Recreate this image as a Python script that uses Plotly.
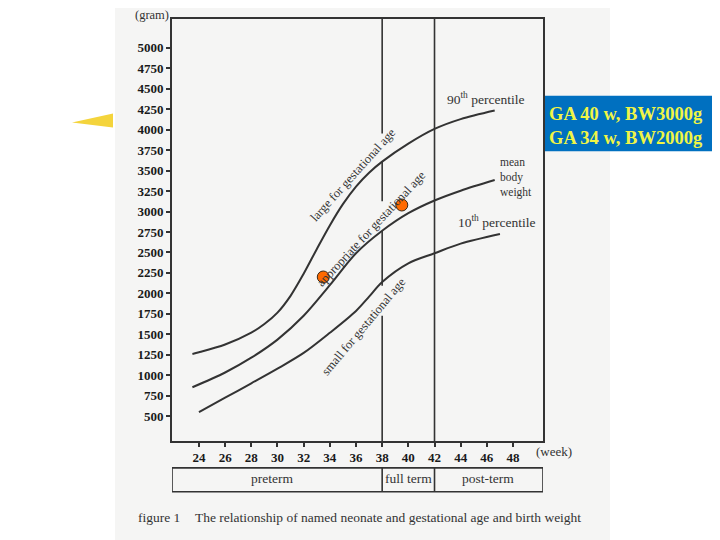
import plotly.graph_objects as go

# ---------------- data ----------------
weeks_90 = [23.5, 24, 26, 28, 29, 30, 31, 32, 33, 34, 35, 36, 37, 38, 40, 42, 44, 46.6]
bw_90 = [1260, 1280, 1375, 1520, 1625, 1765, 1970, 2240, 2540, 2830, 3090, 3305, 3475, 3610,
         3830, 4010, 4130, 4235]

weeks_mean = [23.5, 26, 28, 30, 32, 34, 36, 38, 40, 42, 44, 46.6]
bw_mean = [853, 1033, 1214, 1435, 1726, 2100, 2490, 2765, 2980, 3135, 3255, 3385]

weeks_10 = [24, 26, 28, 30, 32, 34, 36, 37, 38, 40, 42, 44, 47]
bw_10 = [549, 725, 901, 1080, 1272, 1518, 1785, 1960, 2139, 2368, 2490, 2608, 2726]

dot_weeks = [33.5, 39.5]
dot_weights = [2200, 3080]

x_ticks = list(range(24, 49, 2))
y_ticks = list(range(500, 5001, 250))

term_bounds = [38, 42]
term_labels = ["preterm", "full term", "post-term"]
term_label_weeks = [29.6, 40, 46.1]

box_lines = ["GA 40 w, BW3000g", "GA 34 w, BW2000g"]

# ---------------- layout geometry ----------------
# The page body adds an 8px margin, so the figure is drawn 8px smaller and
# all screen positions below are given in window pixels.
OFF = 8
W, H = 720 - OFF, 540 - OFF
L, T, PW, PH = 172, 17, 371, 424          # plot area in window pixels
X_RANGE = [21.94, 50.29]
Y_RANGE = [196, 5353]
SCAN = "#f5f5f4"
INK = "#333333"
SERIF = "Liberation Serif"


def px(x):
    return (x - L) / PW


def py(y):
    return (T + PH - y) / PH


fig = go.Figure()

for wk, bw in [(weeks_90, bw_90), (weeks_mean, bw_mean), (weeks_10, bw_10)]:
    fig.add_trace(go.Scatter(x=wk, y=bw, mode="lines",
                             line=dict(color=INK, width=2, shape="spline", smoothing=0.9),
                             hoverinfo="skip", showlegend=False))

fig.add_trace(go.Scatter(x=dot_weeks, y=dot_weights, mode="markers",
                         marker=dict(size=12, color="#ff6a00", line=dict(color="#3a2a1a", width=1)),
                         showlegend=False))

shapes = []
# scanned paper background
shapes.append(dict(type="rect", xref="paper", yref="paper", x0=px(115), x1=px(610),
                   y0=py(545), y1=py(-5), fillcolor=SCAN, line=dict(width=0), layer="below"))
# vertical line at 38 (with whited-out gaps where labels cross)
seg38 = [(Y_RANGE[0], 1728), (2093, 2762), (3127, 3614), (3954, Y_RANGE[1])]
for a, b in seg38:
    shapes.append(dict(type="line", xref="x", yref="y", x0=38, x1=38, y0=a, y1=b,
                       line=dict(color=INK, width=1.6)))
shapes.append(dict(type="line", xref="x", yref="paper", x0=42, x1=42, y0=0, y1=1,
                   line=dict(color=INK, width=1.6)))
# term boxes below the axis
shapes.append(dict(type="rect", xref="x", yref="paper", x0=X_RANGE[0], x1=X_RANGE[1],
                   y0=py(492), y1=py(468), line=dict(color=INK, width=1.6)))
for b in term_bounds:
    shapes.append(dict(type="line", xref="x", yref="paper", x0=b, x1=b,
                       y0=py(492), y1=py(468), line=dict(color=INK, width=1.6)))
# blue info box
shapes.append(dict(type="rect", xref="paper", yref="paper", x0=px(545), x1=px(725),
                   y0=py(150), y1=py(94), fillcolor="#0070c0", line=dict(width=0)))
# yellow arrow wedge
shapes.append(dict(type="path", xref="paper", yref="paper",
                   path=f"M {px(72)},{py(121)} L {px(113)},{py(112)} L {px(113)},{py(126)} Z",
                   fillcolor="#f4d43c", line=dict(width=0)))

ann = []


def text(x, y, s, size=12.5, angle=0, xanchor="center", color=INK, bold=False, family=SERIF):
    ann.append(dict(xref="paper", yref="paper", x=px(x), y=py(y), text=s, showarrow=False,
                    xanchor=xanchor, yanchor="middle", textangle=angle, align="left",
                    font=dict(family=family, size=size, color=color,
                              weight="bold" if bold else "normal")))


text(152, 13, "(gram)", 12.5)
text(554, 452, "(week)", 13)
for lab, wk in zip(term_labels, term_label_weeks):
    ann.append(dict(xref="x", yref="paper", x=wk, y=py(479), text=lab, showarrow=False,
                    xanchor="center", yanchor="middle",
                    font=dict(family=SERIF, size=13.5, color=INK)))
text(136, 518, "figure 1", 13.5, xanchor="left")
text(193, 518, "The relationship of named neonate and gestational age and birth weight", 13.5,
     xanchor="left")
text(485, 97, "90<sup>th</sup> percentile", 13.5)
text(498, 176, "mean<br>body<br>weight", 11.5, xanchor="left")
text(496, 220, "10<sup>th</sup> percentile", 13.5)
text(353, 174, "large for gestational age", 12.5, angle=-48)
text(371, 228, "appropriate for gestational age", 12.5, angle=-47)
text(363, 326, "small for gestational age", 12.5, angle=-50)
text(547, 112, box_lines[0], 18.5, color="#f0f545", bold=True, xanchor="left")
text(547, 137, box_lines[1], 18.5, color="#f0f545", bold=True, xanchor="left")

fig.update_layout(
    width=W, height=H,
    margin=dict(l=L - OFF, r=W - (L - OFF) - PW, t=T - OFF, b=H - (T - OFF) - PH, pad=0),
    paper_bgcolor="white", plot_bgcolor=SCAN,
    shapes=shapes, annotations=ann, showlegend=False,
    xaxis=dict(range=X_RANGE, tickmode="array", tickvals=x_ticks, ticks="outside", ticklen=4,
               tickwidth=1.5, tickcolor=INK, showline=True, linecolor=INK, linewidth=1.6,
               mirror=True, showgrid=False, zeroline=False,
               tickfont=dict(family=SERIF, size=13, color="#1a1a1a", weight="bold")),
    yaxis=dict(range=Y_RANGE, tickmode="array", tickvals=y_ticks, ticks="outside", ticklen=4,
               tickwidth=1.5, tickcolor=INK, showline=True, linecolor=INK, linewidth=1.6,
               mirror=True, showgrid=False, zeroline=False,
               tickfont=dict(family=SERIF, size=13, color="#1a1a1a", weight="bold")),
)

fig.write_html("out.html")
